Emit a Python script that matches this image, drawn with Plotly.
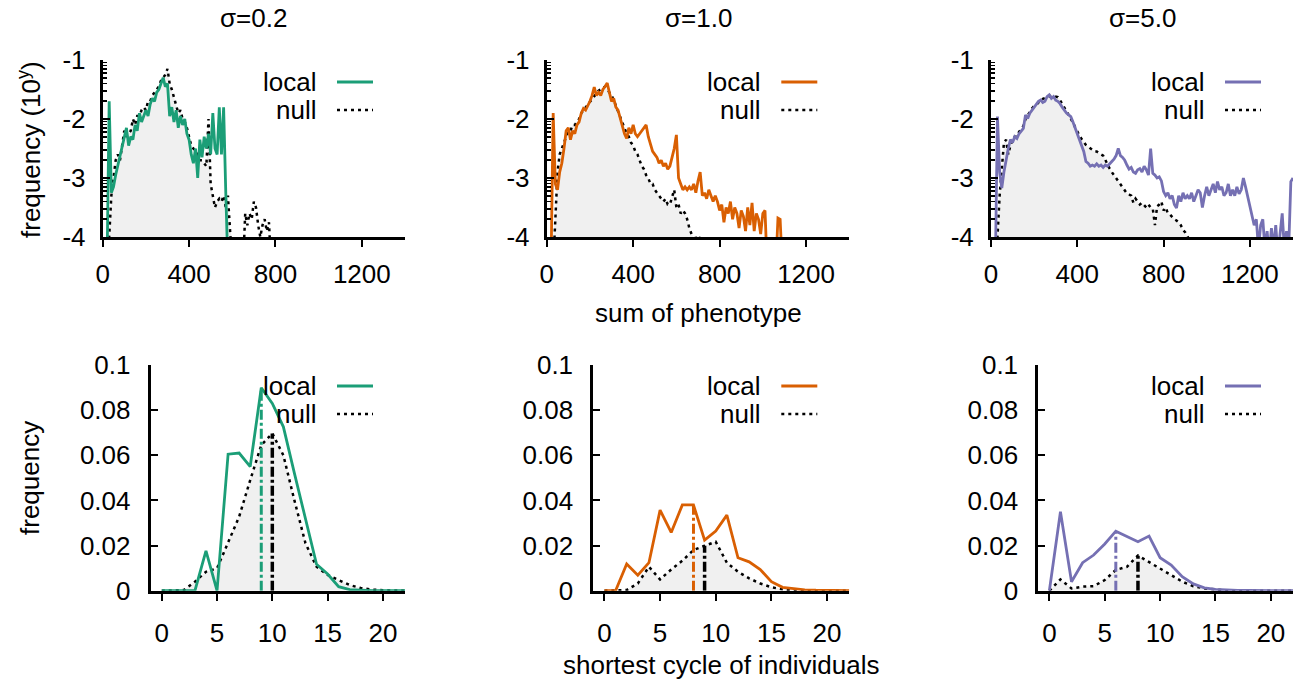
import math
import plotly.graph_objects as go

W, H = 1294, 683

# ---------------- data ----------------
sigma_labels = ["σ=0.2", "σ=1.0", "σ=5.0"]
colors = ["#1b9e77", "#d95f02", "#7570b3"]

# sum of phenotype histograms, log10(frequency), bins of 10
phen_step = 10
local_02_start = 20
local_02 = [-4.5, -1.70, -3.25, -3.15, -2.95, -2.8, -2.6, -2.5, -2.35, -2.15,
            -2.45, -2.3, -2.35, -2.1, -2.2, -1.9, -2.05, -1.95, -1.85, -1.95,
            -1.75, -1.65, -1.7, -1.55, -1.5, -1.4, -1.3, -1.45, -1.4, -1.95,
            -1.8, -2.05, -1.85, -2.15, -1.95, -2.1, -2.0, -2.25, -2.35, -2.6,
            -2.75, -2.5, -3.0, -2.35, -2.65, -2.3, -2.5, -2.25, -2.6, -1.9,
            -2.5, -2.6, -1.8, -2.6, -1.8, -3.25, -4.5]
null_02_start = 20
null_02 = [-4.5, -4.0, -3.3, -3.0, -2.7, -2.6, -2.7, -2.45, -2.2, -2.3,
           -2.25, -2.2, -2.0, -2.1, -1.95, -1.95, -1.85, -1.8, -1.85, -1.7,
           -1.7, -1.6, -1.55, -1.5, -1.45, -1.35, -1.3, -1.25, -1.15, -1.4,
           -1.5, -1.65, -1.75, -1.9, -1.85, -2.0, -2.05, -2.15, -2.3, -2.45,
           -2.5, -2.55, -2.6, -2.7, -2.7, -2.75, -2.8, -2.0, -3.1, -3.3,
           -3.5, -3.4, -3.35, -3.4, -3.3, -3.5, -3.3, -3.9, -4.5, -4.5,
           -4.5, -4.5, -4.5, -4.5, -3.6, -3.8, -3.6, -3.7, -3.4, -3.5,
           -3.8, -4.0, -3.8, -3.7, -3.9, -3.75, -4.5]
local_10_start = 20
local_10 = [-4.5, -1.9, -3.1, -3.2, -2.9, -2.75, -2.5, -2.2, -2.15, -2.35,
            -2.2, -2.25, -2.1, -2.05, -1.9, -1.82, -1.85, -1.78, -1.7, -1.6,
            -1.46, -1.6, -1.55, -1.6, -1.5, -1.45, -1.39, -1.55, -1.7, -1.65,
            -1.8, -1.85, -2.0, -2.1, -2.25, -2.33, -2.15, -2.25, -2.1, -2.25,
            -2.3, -2.25, -2.2, -2.15, -2.1, -2.3, -2.45, -2.55, -2.6, -2.65,
            -2.75, -2.7, -2.8, -2.75, -2.85, -2.8, -2.65, -2.5, -2.27, -3.0,
            -3.1, -3.2, -3.15, -3.2, -3.15, -3.2, -3.1, -3.25, -3.05, -2.9,
            -3.3, -3.25, -3.35, -3.2, -3.3, -3.4, -3.3, -3.4, -3.55, -3.45,
            -3.75, -3.5, -3.6, -3.4, -3.7, -3.5, -3.6, -3.85, -3.55, -3.65,
            -3.9, -3.5, -3.8, -3.42, -3.9, -3.6, -3.7, -3.95, -3.6, -3.55,
            -4.5, -4.5, -4.5, -4.5, -4.5, -3.68, -3.7, -4.5, -4.5]
null_10_start = 30
null_10 = [-4.5, -3.6, -2.9, -2.6, -2.5, -2.4, -2.3, -2.2, -2.2, -2.1,
           -2.1, -2.05, -2.0, -1.9, -1.85, -1.8, -1.75, -1.7, -1.65, -1.6,
           -1.55, -1.52, -1.5, -1.47, -1.45, -1.5, -1.55, -1.6, -1.68, -1.78,
           -1.85, -1.95, -2.05, -2.15, -2.25, -2.3, -2.4, -2.45, -2.55, -2.6,
           -2.7, -2.8, -2.85, -2.95, -3.0, -3.1, -3.1, -3.2, -3.25, -3.3,
           -3.35, -3.4, -3.35, -3.45, -3.45, -3.3, -3.2, -3.5, -3.45, -3.6,
           -3.55, -3.6, -3.7, -3.85, -3.95, -4.2, -4.0, -4.1, -4.0, -4.5]
local_50_start = 20
local_50 = [-4.5, -1.96, -2.9, -3.17, -2.9, -2.67, -2.5, -2.35, -2.4, -2.3,
            -2.33, -2.25, -2.2, -2.16, -1.93, -1.99, -1.9, -1.85, -1.81, -1.75,
            -1.7, -1.68, -1.72, -1.7, -1.62, -1.59, -1.65, -1.62, -1.68, -1.7,
            -1.74, -1.8, -1.86, -1.9, -1.93, -1.96, -2.05, -2.15, -2.25, -2.35,
            -2.44, -2.55, -2.72, -2.75, -2.8, -2.78, -2.8, -2.76, -2.8, -2.78,
            -2.82, -2.78, -2.8, -2.75, -2.72, -2.68, -2.62, -2.5, -2.62, -2.65,
            -2.7, -2.78, -2.85, -2.82, -2.9, -2.92, -2.86, -2.84, -2.9, -2.8,
            -2.86, -2.95, -2.5, -2.92, -2.95, -3.0, -2.98, -3.05, -3.23, -3.3,
            -3.25, -3.35, -3.3, -3.45, -3.51, -3.3, -3.4, -3.25, -3.35, -3.3,
            -3.35, -3.25, -3.4, -3.3, -3.2, -3.25, -3.5, -3.3, -3.15, -3.3,
            -3.2, -3.1, -3.25, -3.06, -3.2, -3.15, -3.3, -3.25, -3.1, -3.3,
            -3.2, -3.3, -3.15, -3.27, -3.2, -3.0, -3.15, -3.3, -3.5, -3.6,
            -3.8, -3.7, -4.2, -3.8, -3.7, -4.2, -3.9, -4.3, -3.85, -4.2,
            -3.8, -4.3, -3.9, -3.6, -4.2, -3.9, -4.2, -3.06, -3.0]
null_50_start = 20
null_50 = [-4.5, -4.0, -3.3, -2.8, -2.4, -2.35, -2.6, -2.45, -2.35, -2.3,
           -2.3, -2.22, -2.16, -2.12, -2.0, -1.95, -1.88, -1.82, -1.78, -1.76,
           -1.72, -1.68, -1.66, -1.64, -1.63, -1.62, -1.6, -1.61, -1.62, -1.63,
           -1.68, -1.74, -1.8, -1.86, -1.92, -1.98, -2.06, -2.14, -2.22, -2.28,
           -2.34, -2.4, -2.44, -2.47, -2.5, -2.52, -2.55, -2.55, -2.58, -2.6,
           -2.62, -2.7, -2.78, -2.84, -2.9, -2.95, -3.0, -3.06, -3.12, -3.17,
           -3.22, -3.26, -3.28, -3.3, -3.42, -3.35, -3.4, -3.45, -3.42, -3.47,
           -3.5, -3.45, -3.5, -3.52, -3.8, -3.48, -3.45, -3.4, -3.55, -3.5,
           -3.6, -3.62, -3.67, -3.7, -3.72, -3.75, -3.8, -3.88, -3.92, -4.0,
           -4.05, -4.5]
null_fill_end = [600, 1400, 1400]

# shortest cycle distributions
cycle_x = list(range(0, 23))
local_cyc_02 = [0, 0, 0, 0, 0.0176, 0, 0.0605, 0.061, 0.055, 0.0899, 0.083,
                0.0726, 0.052, 0.032, 0.0117, 0.0074, 0.0018, 0.0005, 0.0001,
                0, 0, 0, 0]
null_cyc_02 = [0, 0, 0.0003, 0.004, 0.0084, 0.0099, 0.0217, 0.0328, 0.049,
               0.0645, 0.0697, 0.060, 0.040, 0.021, 0.0106, 0.007, 0.0047,
               0.0025, 0.0012, 0.0005, 0.0002, 0.0001, 0]
local_cyc_10 = [0, 0, 0.0118, 0.0069, 0.0124, 0.0357, 0.0258, 0.038, 0.038,
                0.0224, 0.0264, 0.0335, 0.0146, 0.0128, 0.0094, 0.004, 0.0015,
                0.0008, 0.0004, 0.0002, 0.0001, 0, 0]
null_cyc_10 = [0, 0, 0.0003, 0.0032, 0.0106, 0.005, 0.0094, 0.0133, 0.018,
               0.0199, 0.0217, 0.0124, 0.0084, 0.0055, 0.0032, 0.0015, 0.0006,
               0.0002, 0, 0, 0, 0, 0]
local_cyc_50 = [0, 0.035, 0.004, 0.0124, 0.0158, 0.0207, 0.0264, 0.0239,
                0.0217, 0.0242, 0.0146, 0.0114, 0.0062, 0.003, 0.0013, 0.0006,
                0.0002, 0.0001, 0.0001, 0, 0, 0, 0]
null_cyc_50 = [0, 0.005, 0.001, 0.0018, 0.002, 0.0047, 0.0092, 0.0106, 0.0156,
               0.0128, 0.0099, 0.0069, 0.004, 0.002, 0.001, 0.0004, 0.0001,
               0, 0, 0, 0, 0, 0]
median_local = [9, 8, 6]
median_null = [10, 9, 8]

phen_ticks = [0, 400, 800, 1200]
logy_ticks = [-1, -2, -3, -4]
logy_ticktext = ["-1", "-2", "-3", "-4"]
cyc_xticks = [0, 5, 10, 15, 20]
cyc_yticks = [0, 0.02, 0.04, 0.06, 0.08, 0.1]
cyc_yticktext = ["0", "0.02", "0.04", "0.06", "0.08", "0.1"]

# ---------------- layout helpers ----------------
FONT = "Liberation Sans, Arial, Helvetica, sans-serif"
FS = 26
FILL = "#f0f0f0"
NULL_DASH = "3px,4px"
MED_DASH = "10px,3px,3px,3px"
LW = 2.8


def pxx(x):
    return x / W


def pxy(y):
    return 1 - y / H


top_x_px = [(102.7, 405.0), (546.7, 849.3), (991.0, 1293.0)]
bot_x_px = [(150.7, 405.0), (593.3, 849.3), (1038.3, 1293.0)]
top_y_px = (60.0, 237.0)
bot_y_px = (365.0, 590.7)

top_local = [(local_02_start, local_02), (local_10_start, local_10), (local_50_start, local_50)]
top_null = [(null_02_start, null_02), (null_10_start, null_10), (null_50_start, null_50)]
bot_local = [local_cyc_02, local_cyc_10, local_cyc_50]
bot_null = [null_cyc_02, null_cyc_10, null_cyc_50]

minor_log = [d + math.log10(k) for d in (-4, -3, -2) for k in range(2, 10)]

fig = go.Figure()
layout = dict(
    template="none",
    width=W, height=H, margin=dict(l=0, r=0, t=0, b=0, pad=0, autoexpand=False),
    paper_bgcolor="white", plot_bgcolor="white", showlegend=False,
    font=dict(family=FONT, size=FS, color="black"),
)

shapes = []
annotations = []

axis_common = dict(showline=True, linewidth=3, linecolor="black", showgrid=False,
                   zeroline=False, automargin=False, tickcolor="black", tickwidth=2,
                   ticklen=7, tickfont=dict(size=FS, family=FONT, color="black"))

for i in range(3):
    # ----- top row: axes i+1 -----
    ax = i + 1
    xn = "x" if ax == 1 else f"x{ax}"
    yn = "y" if ax == 1 else f"y{ax}"
    xs0, lys = top_local[i]
    lx = [xs0 + phen_step * k for k in range(len(lys))]
    ns0, nys = top_null[i]
    nx = [ns0 + phen_step * k for k in range(len(nys))]

    fx = [x for x in nx if x <= null_fill_end[i]]
    fy = [max(y, -4) for x, y in zip(nx, nys) if x <= null_fill_end[i]]
    fig.add_trace(go.Scatter(x=fx + [fx[-1], fx[0]], y=fy + [-4, -4], xaxis=xn, yaxis=yn,
                             mode="lines", fill="toself", fillcolor=FILL,
                             line=dict(width=0), hoverinfo="skip"))
    fig.add_trace(go.Scatter(x=nx, y=nys, xaxis=xn, yaxis=yn, mode="lines",
                             line=dict(color="black", width=2.5, dash=NULL_DASH),
                             hoverinfo="skip"))
    fig.add_trace(go.Scatter(x=lx, y=lys, xaxis=xn, yaxis=yn, mode="lines",
                             line=dict(color=colors[i], width=LW), hoverinfo="skip"))

    layout["xaxis" if ax == 1 else f"xaxis{ax}"] = dict(
        axis_common,
        domain=[pxx(top_x_px[i][0]), pxx(top_x_px[i][1])], anchor=yn,
        range=[0, 1400], tickmode="array", tickvals=phen_ticks,
        ticks="outside", ticklabelstandoff=5)
    layout["yaxis" if ax == 1 else f"yaxis{ax}"] = dict(
        axis_common,
        domain=[pxy(top_y_px[1]), pxy(top_y_px[0])], anchor=xn,
        range=[-4, -1], tickmode="array", tickvals=logy_ticks, ticktext=logy_ticktext,
        ticks="inside",
        minor=dict(tickmode="array", tickvals=minor_log, ticks="inside",
                   ticklen=4, tickwidth=1.5, tickcolor="black", showgrid=False),
        ticklabelstandoff=9)

    # ----- bottom row: axes i+4 -----
    ax = i + 4
    xn = f"x{ax}"
    yn = f"y{ax}"
    fig.add_trace(go.Scatter(x=cycle_x, y=bot_null[i], xaxis=xn, yaxis=yn, mode="lines",
                             fill="tozeroy", fillcolor=FILL, line=dict(width=0),
                             hoverinfo="skip"))
    fig.add_trace(go.Scatter(x=cycle_x, y=bot_null[i], xaxis=xn, yaxis=yn, mode="lines",
                             line=dict(color="black", width=2.5, dash=NULL_DASH),
                             hoverinfo="skip"))
    fig.add_trace(go.Scatter(x=cycle_x, y=bot_local[i], xaxis=xn, yaxis=yn, mode="lines",
                             line=dict(color=colors[i], width=LW), hoverinfo="skip"))
    ml = median_local[i]
    mn = median_null[i]
    fig.add_trace(go.Scatter(x=[ml, ml], y=[0, bot_local[i][cycle_x.index(ml)]],
                             xaxis=xn, yaxis=yn, mode="lines",
                             line=dict(color=colors[i], width=3, dash=MED_DASH),
                             hoverinfo="skip"))
    fig.add_trace(go.Scatter(x=[mn, mn], y=[0, bot_null[i][cycle_x.index(mn)]],
                             xaxis=xn, yaxis=yn, mode="lines",
                             line=dict(color="black", width=3.5, dash=MED_DASH),
                             hoverinfo="skip"))

    layout[f"xaxis{ax}"] = dict(
        axis_common,
        domain=[pxx(bot_x_px[i][0]), pxx(bot_x_px[i][1])], anchor=yn,
        range=[-1, 22], tickmode="array", tickvals=cyc_xticks,
        ticks="outside", ticklabelstandoff=10)
    layout[f"yaxis{ax}"] = dict(
        axis_common,
        domain=[pxy(bot_y_px[1]), pxy(bot_y_px[0])], anchor=xn,
        range=[0, 0.1], tickmode="array", tickvals=cyc_yticks, ticktext=cyc_yticktext,
        ticks="inside", ticklabelstandoff=12)

    # ----- keys -----
    for (xr, yrow) in ((top_x_px[i][1], (82.0, 110.0)), (bot_x_px[i][1], (386.0, 414.0))):
        for name, yy, col, dash, lw in (("local", yrow[0], colors[i], "solid", LW),
                                        ("null", yrow[1], "black", NULL_DASH, 2.5)):
            annotations.append(dict(x=pxx(xr - 87), y=pxy(yy), xref="paper", yref="paper",
                                    text=name, showarrow=False, xanchor="right",
                                    yanchor="middle", height=24,
                                    font=dict(size=FS, family=FONT)))
            shapes.append(dict(type="line", xref="paper", yref="paper",
                               x0=pxx(xr - 68), x1=pxx(xr - 32), y0=pxy(yy), y1=pxy(yy),
                               line=dict(color=col, width=lw, dash=dash)))

    # ----- titles -----
    annotations.append(dict(x=pxx((top_x_px[i][0] + top_x_px[i][1]) / 2), y=pxy(18),
                            xref="paper", yref="paper", text=sigma_labels[i],
                            showarrow=False, xanchor="center", yanchor="middle",
                            font=dict(size=FS, family=FONT)))

annotations.append(dict(x=pxx(30), y=pxy(150), xref="paper", yref="paper",
                        text="frequency (10<sup>y</sup>)", textangle=-90, showarrow=False,
                        xanchor="center", yanchor="middle", font=dict(size=FS, family=FONT)))
annotations.append(dict(x=pxx(30), y=pxy(478), xref="paper", yref="paper",
                        text="frequency", textangle=-90, showarrow=False,
                        xanchor="center", yanchor="middle", font=dict(size=FS, family=FONT)))
annotations.append(dict(x=pxx(698), y=pxy(313), xref="paper", yref="paper",
                        text="sum of phenotype", showarrow=False,
                        xanchor="center", yanchor="middle", font=dict(size=FS, family=FONT)))
annotations.append(dict(x=pxx(721), y=pxy(665), xref="paper", yref="paper",
                        text="shortest cycle of individuals", showarrow=False,
                        xanchor="center", yanchor="middle", font=dict(size=FS, family=FONT)))

layout["shapes"] = shapes
layout["annotations"] = annotations
fig.update_layout(**layout)
fig.write_html("out.html",
               config={"displayModeBar": False, "staticPlot": True},
               post_script="document.body.style.margin='0px';"
                           "document.body.style.padding='0px';")
